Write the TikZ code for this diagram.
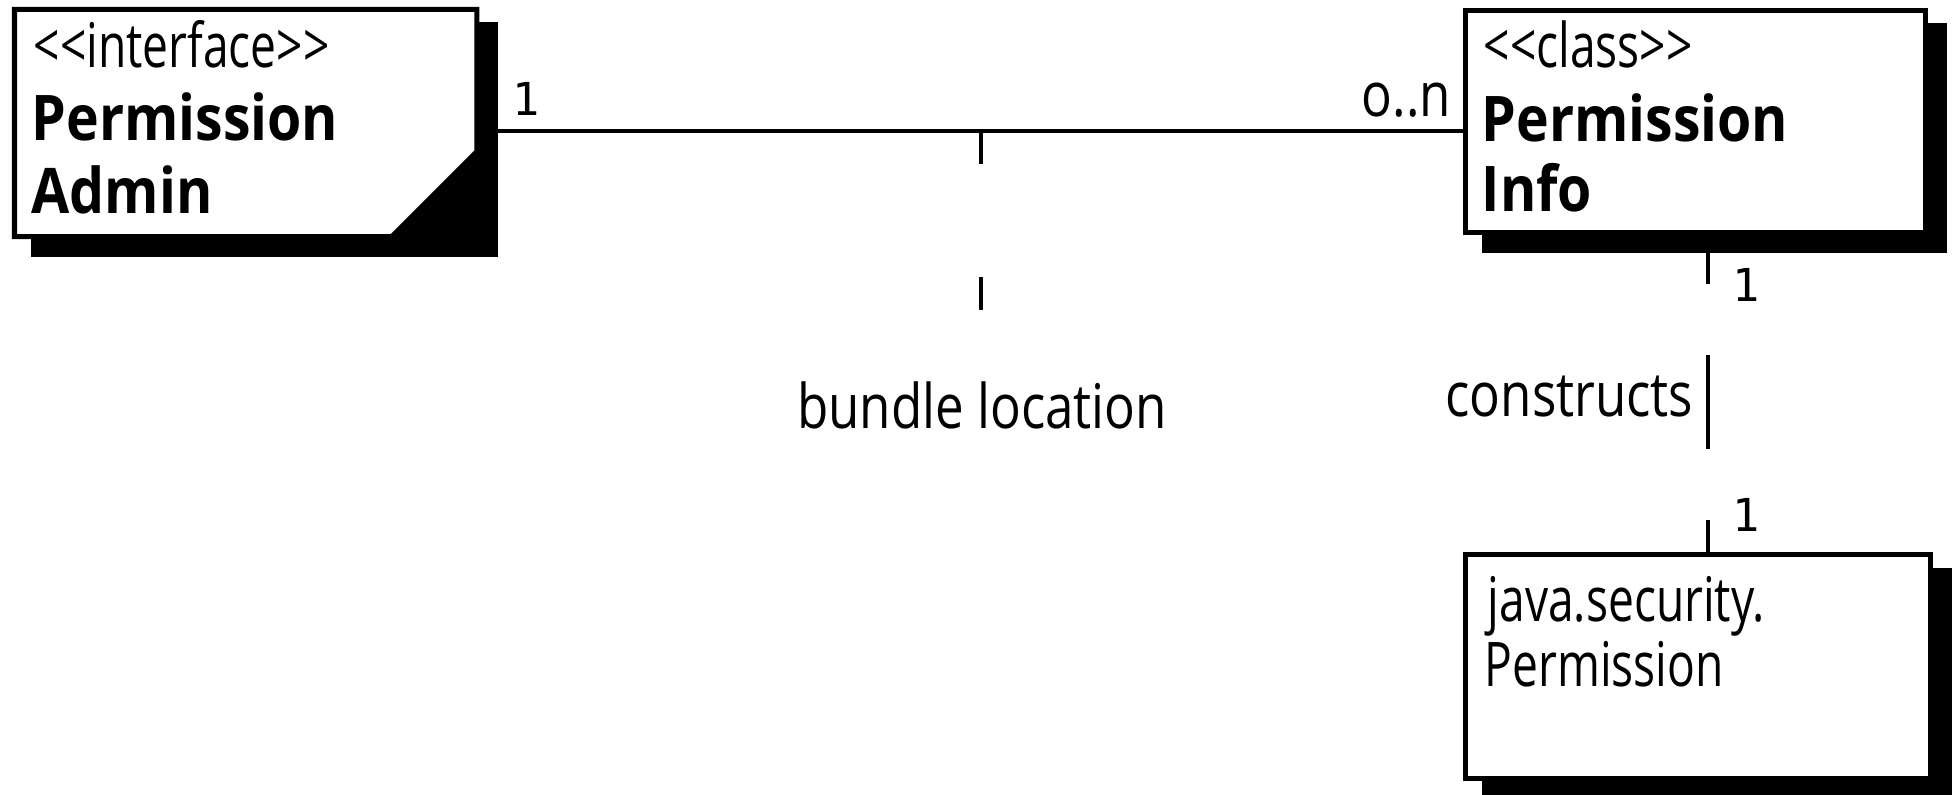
\documentclass[tikz,border=0pt]{standalone}
\usepackage{fontspec}
\setmainfont{Open Sans}[FakeStretch=0.83]
\newfontfamily\boldsans{Open Sans}[FakeStretch=0.88]
\newfontfamily\narrowsans{Open Sans}[FakeStretch=0.75]
\newfontfamily\multfont{DejaVu Sans Mono}
\usetikzlibrary{calc,backgrounds}
\tikzset{
  umlbox/.style={fill=white, line width=0.05cm, outer sep=0pt, inner sep=0pt, anchor=north west},
  conn/.style={draw=black, line width=0.04cm},
  reg/.style={font=\fontsize{17.5}{21}\selectfont, inner sep=0pt, anchor=base west},
  nar/.style={font=\narrowsans\fontsize{17.5}{21}\selectfont, inner sep=0pt, anchor=base west},
  bld/.style={font=\boldsans\bfseries\fontsize{17.9}{21}\selectfont, inner sep=0pt, anchor=base west},
  mult/.style={font=\multfont\fontsize{12.9}{15}\selectfont, inner sep=0pt, anchor=base},
}
\begin{document}
\begin{tikzpicture}[x=0.01cm,y=-0.01cm]
\useasboundingbox (0,0) rectangle (1955,794);

% boxes
\node[umlbox, draw=none, minimum width=4.62cm, minimum height=2.27cm] (admin) at (14.5,9.5) {};
\node[umlbox, draw=black, minimum width=4.60cm, minimum height=2.22cm] (info) at (1465.5,10.5) {};
\node[umlbox, draw=black, minimum width=4.65cm, minimum height=2.235cm] (perm) at (1465.5,554.5) {};

% shadows
\begin{pgfonlayer}{background}
\foreach \n in {admin,info,perm}
  \fill[black] ([shift={(16,13)}]\n.north west) rectangle ([shift={(21,20)}]\n.south east);
\end{pgfonlayer}

% cut corner of the interface box
\fill[black] ($(admin.south east)+(2.5,-88)$) -- ($(admin.south east)+(2.5,2.5)$) -- ($(admin.south east)+(-88,2.5)$) -- cycle;
\draw[line width=0.05cm] (admin.south west) -- (admin.north west) -- (admin.north east)
  -- ($(admin.south east)+(0,-85)$) -- ($(admin.south east)+(-85,0)$) -- cycle;

% texts
\node[nar] (admT) at (33,68) {<\kern0pt<\kern0pt interface>\kern0pt>};
\node[bld] (admB1) at (31,140) {Permission};
\node[bld] (admB2) at (31,213) {Admin};
\node[nar] (infT) at (1483,68) {<\kern0pt<\kern0pt class>\kern0pt>};
\node[bld] (infB1) at (1481,142) {Permission};
\node[bld] (infB2) at (1481,212) {Info};
\node[nar] (perT1) at (1487,621) {java.security.};
\node[nar] (perT2) at (1484,686) {Permission};

% connectors
\coordinate (hl) at (0,131);
\coordinate (bj) at (981,131);
\coordinate (vx) at (1707.5,0);
\draw[conn] (admin.east |- hl) -- (info.west |- hl);
\node[reg, anchor=base] (bundle) at (982,428) {bundle location};
\draw[conn, dash pattern=on 0.33cm off 1.13cm] (bj) -- (bj |- bundle.north);
\draw[conn, dash pattern=on 0.94cm off 0.71cm, dash phase=0.60cm] (perm.north -| vx) -- (info.south -| vx);

% labels
\node[reg, anchor=base east] (constr) at (1694,416) {constructs};
\node[reg, anchor=base east] (on) at (1452,117) {o..n};
\node[mult] (m1) at (526.5,116) {1};
\node[mult] (m2) at (1746.5,301) {1};
\node[mult] (m3) at (1746.5,531) {1};
\end{tikzpicture}
\end{document}
